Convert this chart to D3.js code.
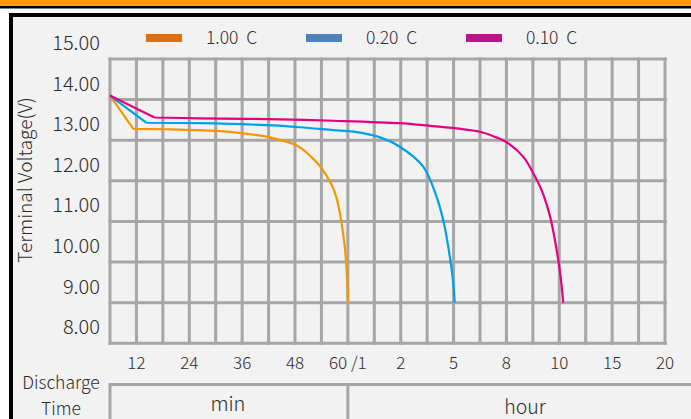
<!DOCTYPE html>
<html>
<head>
<meta charset="utf-8">
<script src="https://cdn.jsdelivr.net/npm/d3@7"></script>
<style>
  html, body { margin: 0; padding: 0; background: #fff; }
  svg { display: block; font-family: "Noto Sans CJK SC", "Noto Sans", sans-serif; font-weight: 300; }
</style>
</head>
<body>
<svg width="691" height="419"></svg>
<script>
// discharge time in minutes, voltage in V
seriesNames = ['1.00\u00a0\u00a0C', '0.20\u00a0\u00a0C', '0.10\u00a0\u00a0C']

time1 = [0, 10.6, 18.9, 30.2, 36.2, 42.3, 48.2, 51.4, 54.3, 57.1, 59.2, 60.3]
volt1 = [14.10, 13.28, 13.27, 13.23, 13.17, 13.07, 12.88, 12.62, 12.27, 11.70, 10.47, 9.00]

time2 = [0, 14.3, 26.5, 41.6, 49.1, 56.7, 66.3, 96.6, 119, 196.5, 240.1, 264.9, 287.4, 299.1, 303.6]
volt2 = [14.10, 13.43, 13.42, 13.37, 13.32, 13.25, 13.21, 13.07, 12.84, 12.35, 11.65, 11.03, 10.13, 9.47, 9.00]

time3 = [0, 16.1, 26.4, 41.6, 56.7, 119.2, 196.7, 310.8, 390, 435.3, 480.6, 518.4, 541.2, 559.8, 579, 594, 607.5, 622.5]
volt3 = [14.10, 13.56, 13.54, 13.52, 13.48, 13.42, 13.37, 13.29, 13.21, 13.10, 12.95, 12.59, 12.18, 11.77, 11.12, 10.30, 9.64, 9.00]

xTicks = [12, 24, 36, 48, 60, 120, 300, 480, 600, 900, 1200]
xTickLabels = ['12', '24', '36', '48', '60 /1', '2', '5', '8', '10', '15', '20']
yTicks = [8, 9, 10, 11, 12, 13, 14, 15]

lineColors = ['#f39800', '#00a0e9', '#e4007f']
swatchColors = ['#e46c0a', '#4f81bd', '#c0108c']

let svg = d3.select('svg')
let width = +svg.attr('width'), height = +svg.attr('height')
let plotLeft = 110, plotRight = 665, plotTop = 59, plotBottom = 343.3
let gridColor = '#a6a6a6', textColor = '#2b2b2b'

// frame
svg.append('rect').attr('x', 0).attr('y', 0).attr('width', width).attr('height', 6.5).attr('fill', '#ff9a00')
svg.append('rect').attr('x', 0).attr('y', 6).attr('width', width).attr('height', 2.5).attr('fill', '#000')
svg.append('rect').attr('x', 11).attr('y', 15).attr('width', width + 20).attr('height', height + 20)
    .attr('fill', '#f2f2f2').attr('stroke', '#000').attr('stroke-width', 4)

// grid columns: 21 equal columns, time labels on every second line
let gx = d3.scaleLinear().domain([0, 21]).range([plotLeft, plotRight])
let x = d3.scaleLinear()
    .domain([0, 12, 24, 36, 48, 60, 120, 300, 480, 600, 900, 1200])
    .range([0, 1, 3, 5, 7, 9, 11, 13, 15, 17, 19, 21].map(gx))
let y = d3.scaleLinear().domain([8, 15]).range([plotBottom, plotTop])

let grid = svg.append('g').attr('stroke', gridColor).attr('stroke-width', 3).attr('stroke-linecap', 'square')
grid.selectAll('.hline').data(yTicks).enter().append('line')
    .attr('x1', plotLeft).attr('x2', plotRight + 0.5)
    .attr('y1', d => y(d)).attr('y2', d => y(d))
grid.selectAll('.vline').data(d3.range(22)).enter().append('line')
    .attr('x1', d => gx(d)).attr('x2', d => gx(d))
    .attr('y1', plotTop).attr('y2', plotBottom)

// y labels sit above their grid lines
svg.append('g').selectAll('text').data(yTicks).enter().append('text')
    .attr('x', 100).attr('y', d => y(d) - 9)
    .attr('text-anchor', 'end').attr('font-size', 20).attr('fill', textColor)
    .text(d => d.toFixed(2))

svg.append('g').selectAll('text').data(xTicks).enter().append('text')
    .attr('x', d => x(d)).attr('y', 369)
    .attr('text-anchor', 'middle').attr('font-size', 17).attr('fill', textColor)
    .text((d, i) => xTickLabels[i])

svg.append('text')
    .attr('transform', 'translate(32,180) rotate(-90)')
    .attr('text-anchor', 'middle').attr('font-size', 19).attr('fill', textColor)
    .text('Terminal Voltage(V)')

svg.append('text').attr('x', 61).attr('y', 389).attr('text-anchor', 'middle')
    .attr('font-size', 17.5).attr('fill', textColor).text('Discharge')
svg.append('text').attr('x', 61).attr('y', 415).attr('text-anchor', 'middle')
    .attr('font-size', 17.5).attr('fill', textColor).text('Time')

// unit boxes under the axis
let units = svg.append('g').attr('stroke', gridColor).attr('stroke-width', 3).attr('fill', 'none')
units.append('path').attr('d', `M${plotLeft},${height + 5}V384.5H${width + 5}`)
units.append('line').attr('x1', x(60)).attr('x2', x(60)).attr('y1', 384.5).attr('y2', height + 5)
svg.append('text').attr('x', (plotLeft + x(60)) / 2 - 1).attr('y', 411).attr('text-anchor', 'middle')
    .attr('font-size', 20).attr('fill', textColor).text('min')
svg.append('text').attr('x', 525).attr('y', 414).attr('text-anchor', 'middle')
    .attr('font-size', 19.5).attr('fill', textColor).text('hour')

// curves: straight initial drop, smooth afterwards
let series = [[time1, volt1], [time2, volt2], [time3, volt3]]
    .map(([t, v]) => t.map((d, i) => [d, v[i]]))
let straight = d3.line().x(d => x(d[0])).y(d => y(d[1]))
let smooth = d3.line().x(d => x(d[0])).y(d => y(d[1])).curve(d3.curveCatmullRom.alpha(0.5))

svg.append('g').selectAll('path').data(series).enter().append('path')
    .attr('d', d => straight(d.slice(0, 2)) + smooth(d.slice(1)))
    .attr('fill', 'none')
    .attr('stroke', (d, i) => lineColors[i])
    .attr('stroke-width', 2.2)
    .attr('stroke-linejoin', 'round')

// legend
let legend = svg.append('g').selectAll('g').data(seriesNames).enter().append('g')
    .attr('transform', (d, i) => `translate(${146 + i * 160},38)`)
legend.append('rect').attr('x', 0).attr('y', -4).attr('width', 36).attr('height', 8)
    .attr('fill', (d, i) => swatchColors[i])
legend.append('text').attr('x', 60).attr('y', 6).attr('font-size', 17.5).attr('fill', textColor)
    .text(d => d)
</script>
</body>
</html>
